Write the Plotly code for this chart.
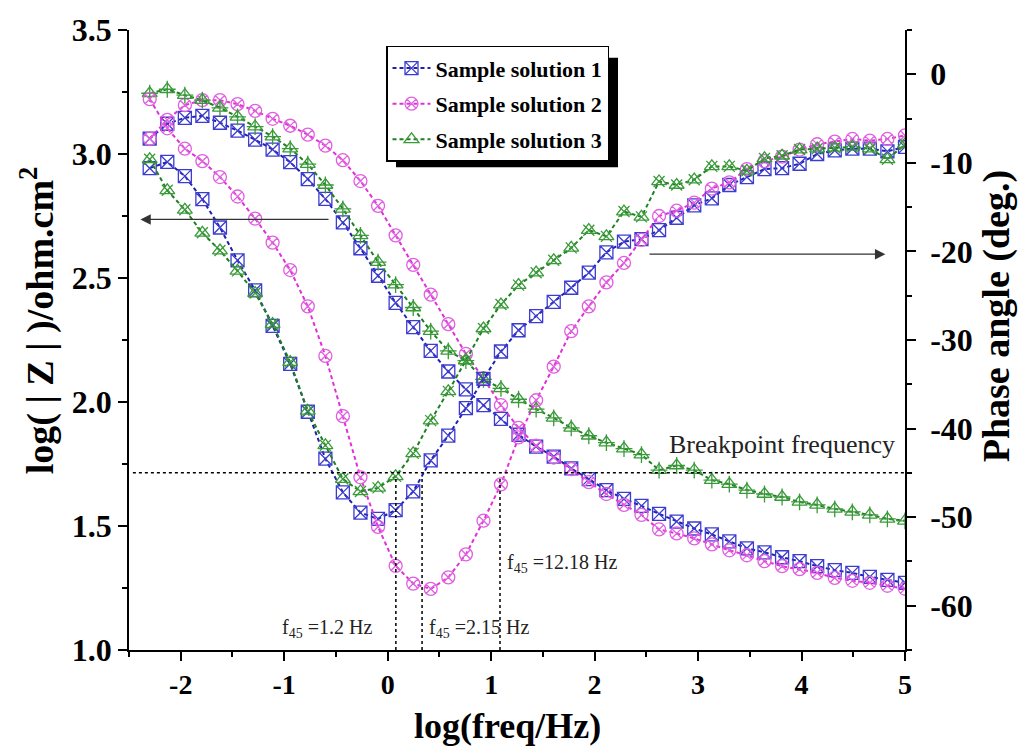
import plotly.graph_objects as go
import math

# log10(frequency / Hz)
logf = [-2.300, -2.130, -1.960, -1.791, -1.621, -1.451, -1.281, -1.112, -0.942, -0.772,
        -0.602, -0.433, -0.263, -0.093, 0.077, 0.247, 0.416, 0.586, 0.756, 0.926,
        1.095, 1.265, 1.435, 1.605, 1.774, 1.944, 2.114, 2.284, 2.453, 2.623,
        2.793, 2.963, 3.133, 3.302, 3.472, 3.642, 3.812, 3.981, 4.151, 4.321,
        4.491, 4.660, 4.830, 5.000]

names = ["Sample solution 1", "Sample solution 2", "Sample solution 3"]

# log|Z| (ohm.cm2)
z1 = [3.062, 3.122, 3.146, 3.154, 3.126, 3.094, 3.058, 3.018, 2.967, 2.899,
      2.819, 2.724, 2.620, 2.509, 2.400, 2.302, 2.206, 2.123, 2.051, 1.987,
      1.932, 1.868, 1.820, 1.780, 1.732, 1.689, 1.645, 1.609, 1.581, 1.549,
      1.518, 1.490, 1.466, 1.438, 1.410, 1.394, 1.374, 1.358, 1.338, 1.322,
      1.311, 1.295, 1.283, 1.271]
z2 = [3.062, 3.138, 3.197, 3.217, 3.217, 3.201, 3.174, 3.142, 3.114, 3.078,
      3.034, 2.975, 2.891, 2.791, 2.672, 2.553, 2.433, 2.314, 2.194, 2.095,
      1.987, 1.896, 1.824, 1.776, 1.729, 1.677, 1.629, 1.585, 1.545, 1.486,
      1.470, 1.450, 1.426, 1.402, 1.382, 1.358, 1.338, 1.326, 1.311, 1.291,
      1.279, 1.271, 1.259, 1.247]
z3 = [3.245, 3.261, 3.237, 3.217, 3.186, 3.150, 3.110, 3.070, 3.022, 2.959,
      2.875, 2.779, 2.672, 2.564, 2.473, 2.381, 2.286, 2.206, 2.167, 2.091,
      2.055, 2.011, 1.971, 1.936, 1.896, 1.864, 1.836, 1.812, 1.788, 1.725,
      1.744, 1.725, 1.685, 1.669, 1.645, 1.629, 1.617, 1.597, 1.585, 1.569,
      1.557, 1.545, 1.529, 1.521]

# Phase angle (deg.)
p1 = [-10.6, -9.9, -11.5, -14.1, -17.3, -21.0, -24.4, -28.4, -32.7, -38.1,
      -43.4, -47.2, -49.5, -50.2, -49.2, -47.1, -43.6, -40.8, -37.7, -34.4,
      -31.3, -28.9, -27.3, -25.7, -24.1, -22.4, -20.1, -18.9, -18.6, -17.6,
      -16.2, -14.8, -14.0, -12.5, -11.6, -10.7, -10.6, -10.1, -9.0, -8.6,
      -8.4, -8.4, -8.7, -8.2]
p2 = [-2.8, -6.1, -8.4, -9.8, -11.6, -13.8, -16.3, -19.0, -22.1, -26.2,
      -31.8, -38.6, -45.5, -51.1, -55.5, -57.5, -58.1, -56.8, -54.2, -50.4,
      -46.3, -41.0, -36.8, -33.0, -29.0, -26.2, -23.5, -21.3, -18.7, -16.0,
      -15.4, -14.5, -12.9, -12.2, -10.7, -9.8, -9.3, -8.5, -7.9, -7.6,
      -7.3, -7.5, -7.3, -6.9]
p3 = [-9.6, -13.1, -15.3, -17.9, -19.9, -22.2, -24.7, -28.2, -32.5, -38.0,
      -41.9, -45.7, -47.1, -46.7, -45.4, -42.8, -39.1, -35.8, -32.3, -28.7,
      -26.0, -23.8, -22.4, -21.0, -19.6, -17.6, -18.3, -15.5, -16.1, -12.1,
      -12.5, -11.9, -10.4, -10.4, -10.9, -9.5, -9.2, -8.5, -8.4, -8.3,
      -8.2, -8.4, -9.6, -7.9]

# tick labels
x_ticks = [-2, -1, 0, 1, 2, 3, 4, 5]
x_ticktext = ["-2", "-1", "0", "1", "2", "3", "4", "5"]
y2_ticks = [0, -10, -20, -30, -40, -50, -60]
y2_ticktext = ["0", "-10", "-20", "-30", "-40", "-50", "-60"]

f45_hz = [1.2, 2.15, 12.18]
f45_labels = ["f<sub>45</sub> =1.2 Hz", "f<sub>45</sub> =2.15 Hz", "f<sub>45</sub> =12.18 Hz"]
breakpoint_phase = -45
breakpoint_logz = 1.7

line_cols = ["#1f1fb0", "#e030d8", "#1e801e"]
mark_cols = ["#3c3cd0", "#e060e0", "#3a9a3a"]
symbols = ["square-x-open", "circle-x-open", "triangle-up-open"]

FONT = "Liberation Serif"

# plot area in pixels (for placing annotations in paper coords)
L, R, T, B = 129, 905, 22, 650
def px(x):
    return (x - L) / (R - L)
def py(y):
    return (B - y) / (B - T)

fig = go.Figure()

zs = [z1, z2, z3]
ps = [p1, p2, p3]
for i in range(3):
    fig.add_trace(go.Scatter(
        x=logf, y=zs[i], mode="lines+markers", name=names[i], legendgroup=names[i],
        line=dict(color=line_cols[i], width=2, dash="4px,3px"),
        marker=dict(symbol=symbols[i], size=13, color=mark_cols[i], line=dict(width=1.3, color=mark_cols[i])),
        yaxis="y"))
    fig.add_trace(go.Scatter(
        x=logf, y=ps[i], mode="lines+markers", name=names[i], legendgroup=names[i], showlegend=False,
        line=dict(color=line_cols[i], width=2, dash="4px,3px"),
        marker=dict(symbol=symbols[i], size=13, color=mark_cols[i], line=dict(width=1.3, color=mark_cols[i])),
        yaxis="y2"))

# cross overlays inside triangles for solution 3
fig.add_trace(go.Scatter(x=logf, y=z3, mode="markers", showlegend=False, hoverinfo="skip",
                         marker=dict(symbol="cross-thin-open", size=12, color=mark_cols[2],
                                     line=dict(width=1.3, color=mark_cols[2])),
                         yaxis="y"))
fig.add_trace(go.Scatter(x=logf, y=p3, mode="markers", showlegend=False, hoverinfo="skip",
                         marker=dict(symbol="x-thin-open", size=11, color=mark_cols[2],
                                     line=dict(width=1.3, color=mark_cols[2])),
                         yaxis="y2"))

shapes = []
# breakpoint horizontal dotted line
shapes.append(dict(type="line", xref="paper", yref="y2", x0=0.005, x1=1, y0=breakpoint_phase, y1=breakpoint_phase,
                   line=dict(color="black", width=1.5, dash="dot")))
for f in f45_hz:
    lx = math.log10(f)
    shapes.append(dict(type="line", xref="x", yref="y", x0=lx, x1=lx, y0=1.0, y1=breakpoint_logz,
                       line=dict(color="black", width=1.5, dash="dot")))
# legend shadow
shapes.append(dict(type="rect", xref="paper", yref="paper", x0=px(396), x1=px(618), y0=py(161), y1=py(50),
                   fillcolor="black", line=dict(width=0), layer="above"))
fig.update_layout(shapes=shapes)

ann = []
# arrows
ann.append(dict(x=-2.39, y=2.736, ax=-0.557, ay=2.736, xref="x", yref="y", axref="x", ayref="y",
                showarrow=True, arrowhead=2, arrowsize=1.6, arrowwidth=1.3, arrowcolor="#333333", text=""))
ann.append(dict(x=4.81, y=2.596, ax=2.516, ay=2.596, xref="x", yref="y", axref="x", ayref="y",
                showarrow=True, arrowhead=2, arrowsize=1.6, arrowwidth=1.3, arrowcolor="#333333", text=""))
ann.append(dict(x=3.81, y=1.83, xref="x", yref="y", text="Breakpoint frequency", showarrow=False,
                xanchor="center", yanchor="middle",
                font=dict(family=FONT, size=26, color="#222222")))
pos = [(-1.04, 1.085), (0.38, 1.085), (1.134, 1.35)]
for (ax_, ay_), t in zip(pos, f45_labels):
    ann.append(dict(x=ax_, y=ay_, xref="x", yref="y", text=t, showarrow=False, xanchor="left",
                    font=dict(family=FONT, size=20, color="#222222")))
# axis titles
ann.append(dict(x=px(37), y=py(316), xref="paper", yref="paper", text="log( | Z | )/ohm.cm<sup>2</sup>",
                textangle=-90, showarrow=False, xanchor="center", yanchor="middle",
                font=dict(family=FONT, size=38, weight="bold", color="black")))
ann.append(dict(x=px(996), y=py(312), xref="paper", yref="paper", text="Phase angle (deg.)",
                textangle=-90, showarrow=False, xanchor="center", yanchor="middle",
                font=dict(family=FONT, size=38, weight="bold", color="black")))
ann.append(dict(x=px(507), y=py(727), xref="paper", yref="paper", text="log(freq/Hz)",
                showarrow=False, xanchor="center", yanchor="middle",
                font=dict(family=FONT, size=36, weight="bold", color="black")))
fig.update_layout(annotations=ann)

axis_common = dict(showgrid=False, zeroline=False, showline=True, linecolor="black", linewidth=1.5,
                   ticks="outside", ticklen=9, tickwidth=1.5, tickcolor="black")

fig.update_layout(
    width=1018, height=751,
    margin=dict(l=L, r=1018 - R, t=T, b=751 - B),
    plot_bgcolor="white", paper_bgcolor="white",
    font=dict(family=FONT, color="black"),
    xaxis=dict(range=[-2.5, 5], tickvals=x_ticks, ticktext=x_ticktext,
               minor=dict(dtick=0.5, tick0=0, ticklen=5, ticks="outside", tickwidth=1.5, tickcolor="black"),
               tickfont=dict(family=FONT, size=28, color="black", weight="bold"),
               **axis_common),
    yaxis=dict(range=[1.0, 3.5], dtick=0.5, tick0=1.0, tickformat=".1f",
               minor=dict(dtick=0.25, ticklen=5, ticks="outside", tickwidth=1.5, tickcolor="black"),
               tickfont=dict(family=FONT, size=32, color="black", weight="bold"),
               **axis_common),
    yaxis2=dict(range=[-65, 5], tickvals=y2_ticks, ticktext=y2_ticktext, overlaying="y", side="right",
                minor=dict(dtick=5, tick0=0, ticklen=5, ticks="outside", tickwidth=1.5, tickcolor="black"),
                tickfont=dict(family=FONT, size=32, color="black", weight="bold"),
                ticklabelstandoff=8,
                **axis_common),
    legend=dict(x=px(386), y=py(38), xanchor="left", yanchor="top", bgcolor="white",
                bordercolor="black", borderwidth=1.5, tracegroupgap=4, itemwidth=38,
                font=dict(family=FONT, size=22, color="black", weight="bold")),
    showlegend=True,
)

fig.write_html("out.html")
